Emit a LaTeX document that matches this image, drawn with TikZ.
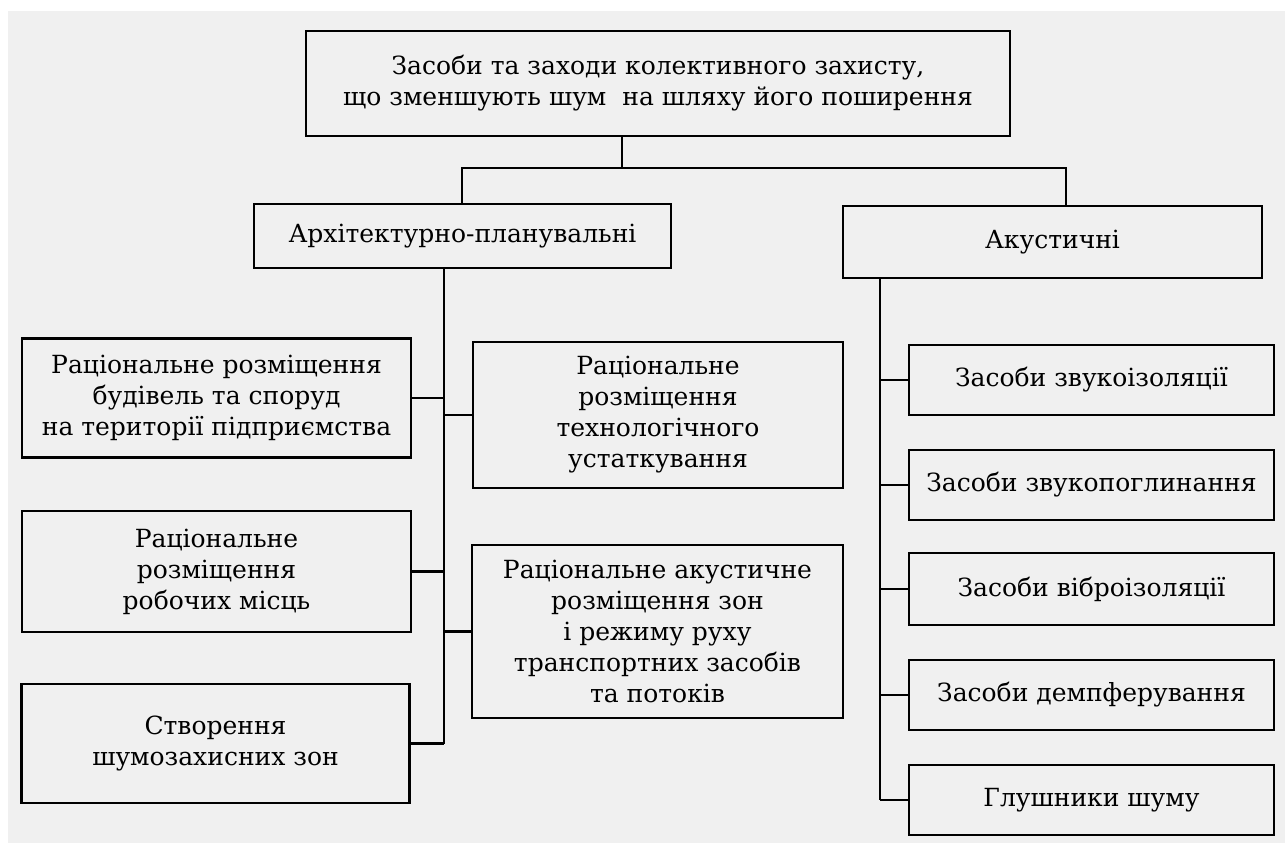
\documentclass[tikz,border=0pt]{standalone}
\usepackage{fontspec}
\setmainfont{DejaVu Serif}
\definecolor{bggray}{HTML}{F0F0F0}
\begin{document}
\begin{tikzpicture}[x=1pt,y=-1pt,
  box/.style={draw=black,line width=2.6pt,inner sep=0pt,align=center,
    font=\fontsize{25}{31}\selectfont},
  conn/.style={draw=black,line width=2.4pt}]
\useasboundingbox (0,0) rectangle (1285,843);
\fill[white] (0,0) rectangle (1285,843);
\fill[bggray] (8,11) rectangle (1285,843);
% top
\node[box,minimum width=704pt,minimum height=105pt] (top) at (658,83.5)
  {Засоби та заходи колективного захисту,\\що зменшують шум\ \ на шляху його поширення};
\node[box,minimum width=417pt,minimum height=64pt] (arch) at (462.5,236)
  {Архітектурно-планувальні};
\node[box,minimum width=419pt,minimum height=72pt] (acu) at (1052.5,242)
  {Акустичні};
% left column
\node[box,minimum width=389pt,minimum height=119pt] (l1) at (216.5,398)
  {Раціональне розміщення\\будівель та споруд\\на території підприємства};
\node[box,minimum width=389pt,minimum height=121pt] (l2) at (216.5,571.5)
  {Раціональне\\розміщення\\робочих місць};
\node[box,minimum width=388pt,minimum height=119pt] (l3) at (215.5,743.5)
  {Створення\\шумозахисних зон};
% middle column
\node[box,minimum width=370pt,minimum height=146pt] (m1) at (658,415)
  {Раціональне\\розміщення\\технологічного\\устаткування};
\node[box,minimum width=371pt,minimum height=173pt] (m2) at (657.5,631.5)
  {Раціональне акустичне\\розміщення зон\\і режиму руху\\транспортних засобів\\та потоків};
% right column
\node[box,minimum width=365pt,minimum height=70pt] (r1) at (1091.5,380) {Засоби звукоізоляції};
\node[box,minimum width=365pt,minimum height=70pt] (r2) at (1091.5,485) {Засоби звукопоглинання};
\node[box,minimum width=365pt,minimum height=72pt] (r3) at (1091.5,589) {Засоби віброізоляції};
\node[box,minimum width=365pt,minimum height=70pt] (r4) at (1091.5,695) {Засоби демпферування};
\node[box,minimum width=365pt,minimum height=70pt] (r5) at (1091.5,800) {Глушники шуму};
% junctions
\coordinate (j0) at (622,168);
\coordinate (jl) at (462,168);
\coordinate (jr) at (1066,168);
\coordinate (lt) at (444,0);
\coordinate (rt) at (880,0);
% connectors
\draw[conn] (top.south -| j0) -- (j0);
\draw[conn] (arch.north -| jl) -- (jl) -- (jr) -- (acu.north -| jr);
\draw[conn] (arch.south -| lt) -- (l3.east -| lt);
\foreach \b in {l1,l2,l3} \draw[conn] (\b.east) -- (\b.east -| lt);
\foreach \b in {m1,m2} \draw[conn] (\b.west) -- (\b.west -| lt);
\draw[conn] (acu.south -| rt) -- (r5.west -| rt);
\foreach \b in {r1,r2,r3,r4,r5} \draw[conn] (\b.west) -- (\b.west -| rt);
\end{tikzpicture}
\end{document}
